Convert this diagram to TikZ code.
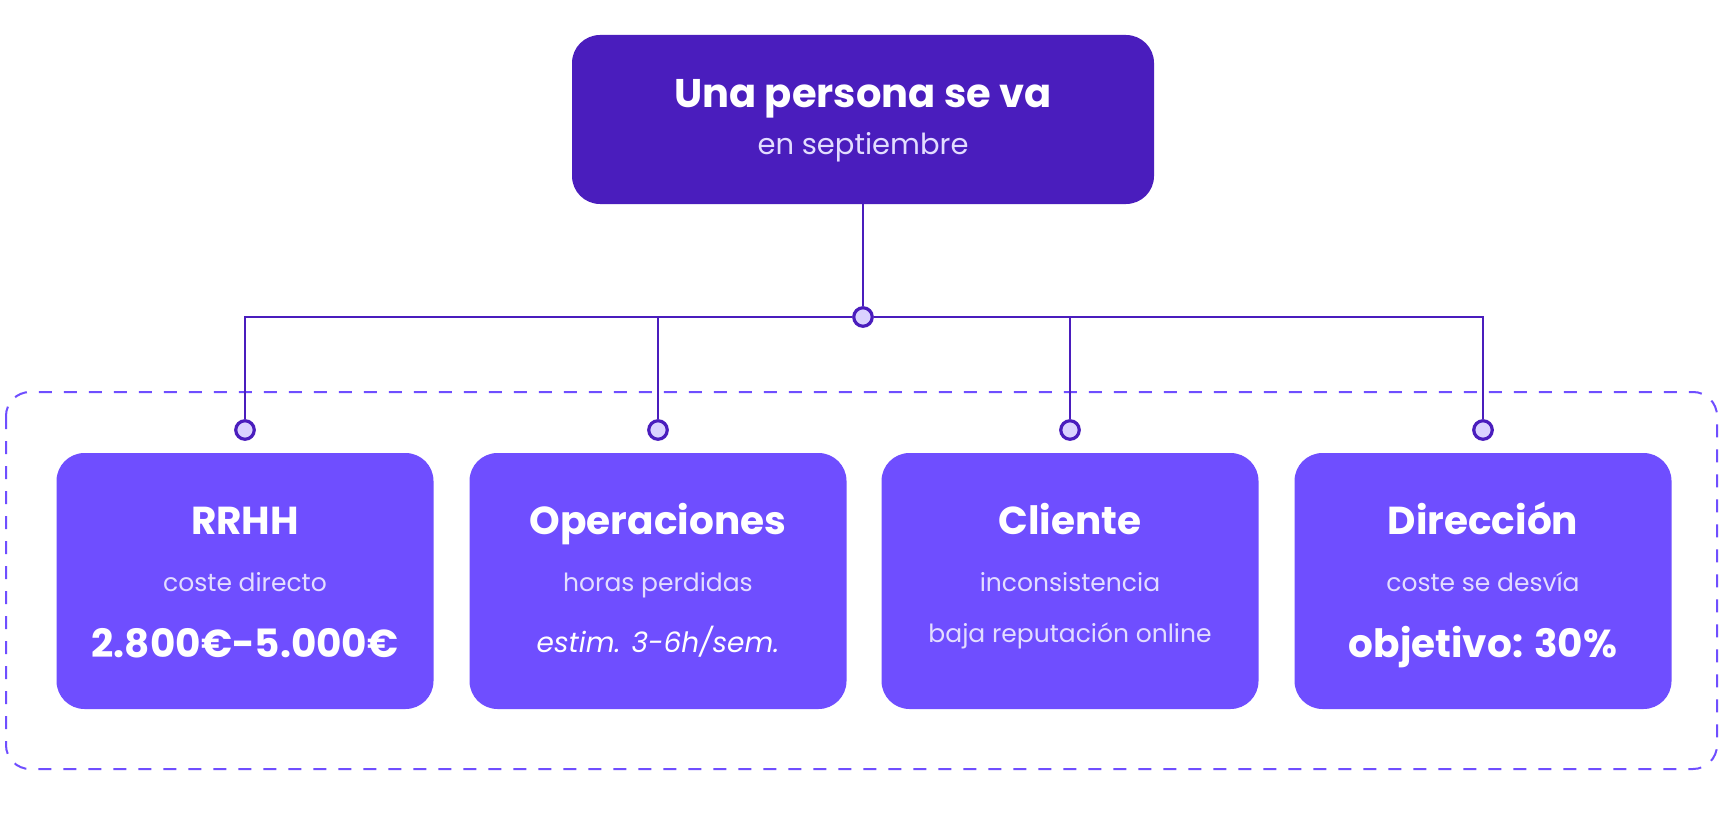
\documentclass[tikz,border=0pt]{standalone}
\usepackage{fontspec}
\setmainfont{Poppins}
\definecolor{dark}{HTML}{4A1DBD}
\definecolor{main}{HTML}{6F4EFF}
\definecolor{pale}{HTML}{DAD2FF}
\definecolor{subc}{HTML}{E3DDFF}
\tikzset{
  topbox/.style={fill=dark, draw=none, rounded corners=28pt, minimum width=582pt, minimum height=169pt, inner sep=0pt},
  cbox/.style={fill=main, draw=none, rounded corners=28pt, minimum width=377pt, minimum height=256pt, inner sep=0pt},
  conn/.style={draw=dark, line width=2pt},
  dot/.style={circle, fill=pale, draw=dark, line width=3.2pt, minimum size=18.5pt, inner sep=0pt},
  frame/.style={draw=main, line width=2pt, dash pattern=on 13pt off 12pt, rounded corners=24pt},
  ttl/.style={anchor=base, text=white, font=\bfseries\fontsize{39}{43}\selectfont, inner sep=0pt},
  bigttl/.style={anchor=base, text=white, font=\bfseries\fontsize{40}{44}\selectfont, inner sep=0pt},
  sub/.style={anchor=base, text=subc, font=\fontsize{25}{29}\selectfont, inner sep=0pt},
  bigsub/.style={anchor=base, text=subc, font=\fontsize{29}{33}\selectfont, inner sep=0pt},
  val/.style={anchor=base, text=white, font=\bfseries\fontsize{39}{43}\selectfont, inner sep=0pt},
  ival/.style={anchor=base, text=white, font=\itshape\fontsize{28}{32}\selectfont, inner sep=0pt},
}
\begin{document}
\begin{tikzpicture}[x=1pt,y=-1pt]
\useasboundingbox (0,0) rectangle (1728,821);
\fill[white] (0,0) rectangle (1728,821);
% dashed frame
\draw[frame] (6,392) rectangle (1717,769);
% top box
\node[topbox] (top) at (863,119.5) {};
\node[bigttl] (toptitle) at (863,108) {Una persona se va};
\node[bigsub] (topsub) at (863,155) {en septiembre};
% child boxes
\node[cbox] (b1) at (245,581) {};
\node[cbox] (b2) at (658,581) {};
\node[cbox] (b3) at (1070,581) {};
\node[cbox] (b4) at (1483,581) {};
% connectors
\coordinate (jc) at (863,317);
\node[dot] (j) at (jc) {};
\node[dot] (d1) at (245,430) {};
\node[dot] (d2) at (658,430) {};
\node[dot] (d3) at (1070,430) {};
\node[dot] (d4) at (1483,430) {};
\draw[conn] (top.south) -- (j.north);
\draw[conn] (j.west) -| (d1.north);
\draw[conn] (j.west) -| (d2.north);
\draw[conn] (j.east) -| (d3.north);
\draw[conn] (j.east) -| (d4.north);
% texts
\node[ttl] (t1) at (245,534) {RRHH};
\node[sub] (s1) at (245,591) {coste directo};
\node[val] (v1) at (245,657) {2.800€-5.000€};
\node[ttl] (t2) at (658,534) {Operaciones};
\node[sub] (s2) at (658,591) {horas perdidas};
\node[ival] (v2) at (658,652) {estim. 3-6h/sem.};
\node[ttl] (t3) at (1070,534) {Cliente};
\node[sub] (s3) at (1070,591) {inconsistencia};
\node[sub] (v3) at (1070,642) {baja reputación online};
\node[ttl] (t4) at (1483,534) {Dirección};
\node[sub] (s4) at (1483,591) {coste se desvía};
\node[val] (v4) at (1483,657) {objetivo: 30\%};
\end{tikzpicture}
\end{document}
